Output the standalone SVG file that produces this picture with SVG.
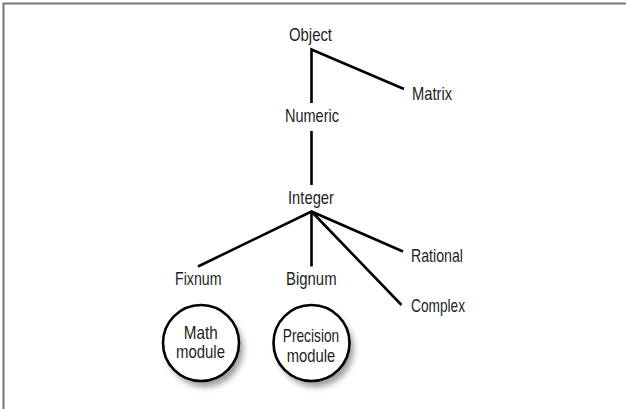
<svg xmlns="http://www.w3.org/2000/svg" width="626" height="409" viewBox="0 0 626 409">
<style>
.t{font-family:"Liberation Sans",Arial,sans-serif;font-size:19px;fill:#231f20;text-anchor:middle}
.l{stroke:#000;stroke-width:2.6;fill:none;stroke-linecap:butt}
.c{fill:#fff;stroke:#000;stroke-width:2.6}
</style>
<defs>
<filter id="sh" x="-30%" y="-30%" width="160%" height="160%">
<feGaussianBlur stdDeviation="3"/>
</filter>
</defs>
<rect width="626" height="409" fill="#fff"/>
<path d="M3.5 410V3.5H626" fill="none" stroke="#777" stroke-width="2"/>
<g id="connectors">
<path class="l" d="M311.5 103V49.5L404 89"/>
<path class="l" d="M311.5 131V185"/>
<path class="l" d="M198 266.5L311.5 211.5L403 251.5M311.5 211.5V266.5M311.5 211.5L401.5 305"/>
</g>
<g id="object"><text class="t" x="310.5" y="41" textLength="43" lengthAdjust="spacingAndGlyphs">Object</text></g>
<g id="matrix"><text class="t" x="432" y="100" textLength="40" lengthAdjust="spacingAndGlyphs">Matrix</text></g>
<g id="numeric"><text class="t" x="312" y="121.5" textLength="54" lengthAdjust="spacingAndGlyphs">Numeric</text></g>
<g id="integer"><text class="t" x="311" y="204" textLength="46" lengthAdjust="spacingAndGlyphs">Integer</text></g>
<g id="rational"><text class="t" x="437" y="261.5" textLength="52" lengthAdjust="spacingAndGlyphs">Rational</text></g>
<g id="fixnum"><text class="t" x="198.3" y="285" textLength="46.5" lengthAdjust="spacingAndGlyphs">Fixnum</text></g>
<g id="bignum"><text class="t" x="311.3" y="285" textLength="50.5" lengthAdjust="spacingAndGlyphs">Bignum</text></g>
<g id="complex"><text class="t" x="438" y="311.5" textLength="54" lengthAdjust="spacingAndGlyphs">Complex</text></g>
<g id="math-module">
<circle cx="205" cy="349" r="38" fill="#999" filter="url(#sh)"/>
<circle class="c" cx="201" cy="343" r="38"/>
<text class="t" x="200.8" y="338.5" textLength="34" lengthAdjust="spacingAndGlyphs">Math</text>
<text class="t" x="200.5" y="357.5" textLength="49" lengthAdjust="spacingAndGlyphs">module</text>
</g>
<g id="precision-module">
<circle cx="315.5" cy="349" r="38" fill="#999" filter="url(#sh)"/>
<circle class="c" cx="311.5" cy="343" r="38"/>
<text class="t" x="311" y="341.5" textLength="56.5" lengthAdjust="spacingAndGlyphs">Precision</text>
<text class="t" x="311" y="361.5" textLength="48.5" lengthAdjust="spacingAndGlyphs">module</text>
</g>
</svg>
